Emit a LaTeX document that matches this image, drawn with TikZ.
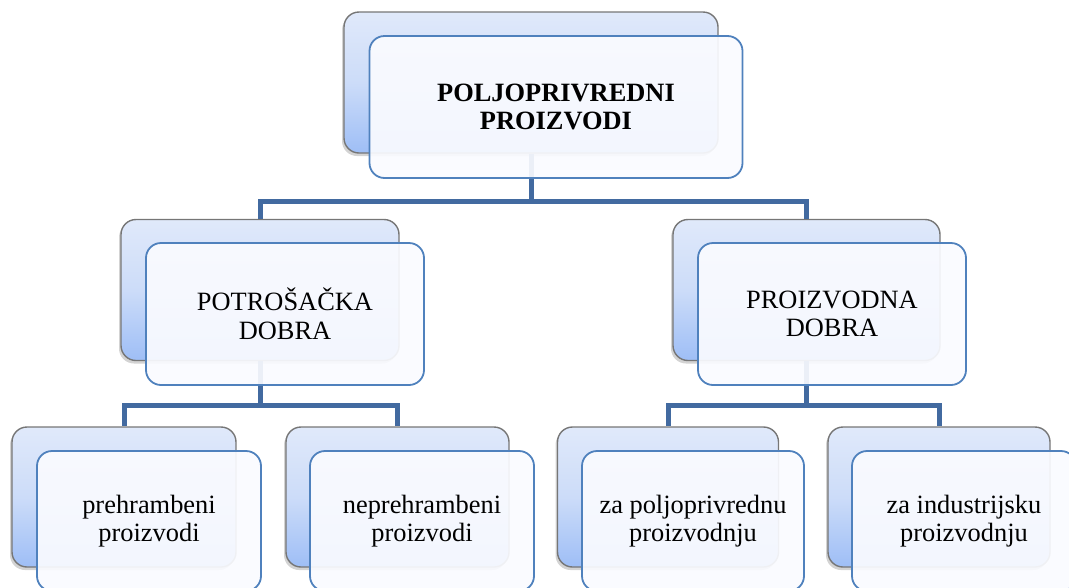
\documentclass[tikz,border=0pt]{standalone}
\usepackage{fontspec}
\setmainfont{Liberation Serif}
\usetikzlibrary{shadows}
\definecolor{connc}{RGB}{66,106,160}
\definecolor{frontedge}{RGB}{79,129,189}
\definecolor{frontfill}{RGB}{250,251,255}
\definecolor{backedge}{RGB}{118,118,118}
\definecolor{backtop}{RGB}{224,233,250}
\definecolor{backbot}{RGB}{158,190,246}
\begin{document}
\begin{tikzpicture}[x=1pt,y=-1pt,
  backbox/.style={draw=backedge, line width=1.4pt, rounded corners=15pt,
    top color=backtop, bottom color=backbot, middle color=backtop!70!backbot,
    drop shadow={shadow xshift=-2pt, shadow yshift=-3pt, opacity=0.35},
    inner sep=0pt},
  frontbox/.style={draw=frontedge, line width=1.8pt, rounded corners=15pt,
    fill=frontfill, fill opacity=0.92, text opacity=1, inner sep=0pt,
    align=center, font=\fontsize{26.4}{28.6}\selectfont},
  conn/.style={draw=connc, line width=5pt, line join=miter}]
\useasboundingbox (0,0) rectangle (1069,587);
% back boxes
\node[backbox, minimum width=374pt, minimum height=141pt] (b0) at (531,82.5) {};
\node[backbox, minimum width=278pt, minimum height=141pt] (b1) at (260,290) {};
\node[backbox, minimum width=267pt, minimum height=141pt] (b2) at (806.5,290) {};
\node[backbox, minimum width=224pt, minimum height=140pt] (b3) at (124,497) {};
\node[backbox, minimum width=223pt, minimum height=140pt] (b4) at (397.5,497) {};
\node[backbox, minimum width=221pt, minimum height=140pt] (b5) at (668,497) {};
\node[backbox, minimum width=222pt, minimum height=140pt] (b6) at (939,497) {};
% connectors
\coordinate (j0) at (531,201);
\coordinate (j1) at (260,405.5);
\coordinate (j2) at (806.5,405.5);
\draw[conn] (b0.south) -- (j0);
\draw[conn] (j0) -| (b1.north);
\draw[conn] (j0) -| (b2.north);
\draw[conn] (b1.south) -- (j1);
\draw[conn] (j1) -| (b3.north);
\draw[conn] (j1) -| (b4.north);
\draw[conn] (b2.south) -- (j2);
\draw[conn] (j2) -| (b5.north);
\draw[conn] (j2) -| (b6.north);
% front boxes
\node[frontbox, minimum width=373pt, minimum height=142pt] (f0) at (556,107) {\bfseries POLJOPRIVREDNI\\\bfseries PROIZVODI};
\node[frontbox, minimum width=278pt, minimum height=142pt] (f1) at (285,314) {POTROŠAČKA\\DOBRA};
\node[frontbox, minimum width=268pt, minimum height=142pt] (f2) at (832,314) {PROIZVODNA\\DOBRA};
\node[frontbox, minimum width=224pt, minimum height=140pt] (f3) at (149,521) {prehrambeni\\proizvodi};
\node[frontbox, minimum width=224pt, minimum height=140pt] (f4) at (422,521) {neprehrambeni\\proizvodi};
\node[frontbox, minimum width=222pt, minimum height=140pt] (f5) at (693,521) {za poljoprivrednu\\proizvodnju};
\node[frontbox, minimum width=224pt, minimum height=140pt] (f6) at (964,521) {za industrijsku\\proizvodnju};
\end{tikzpicture}
\end{document}
